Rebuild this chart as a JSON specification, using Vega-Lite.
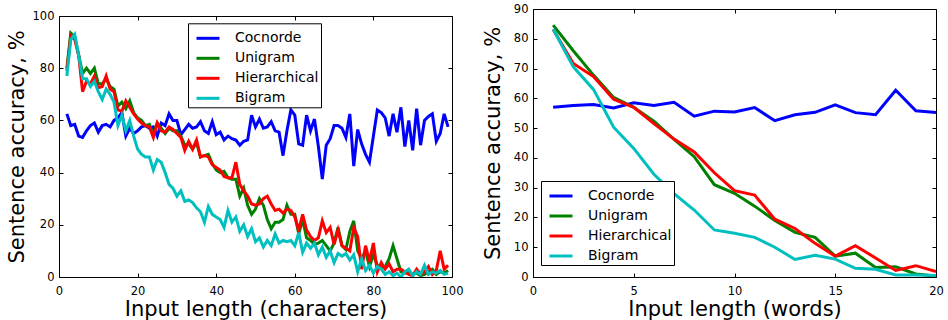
{
  "$schema": "https://vega.github.io/schema/vega-lite/v6.json",
  "padding": {"left": 6, "top": 3, "right": 4, "bottom": 0},
  "config": {
    "font": "DejaVu Sans",
    "view": {"stroke": null},
    "axis": {"grid": false, "domain": true, "domainColor": "black", "domainWidth": 1, "tickColor": "black", "tickSize": -4, "tickWidth": 1, "labelFontSize": 11.5, "labelColor": "black", "labelPadding": 9, "titleFontSize": 21, "titleFontWeight": "normal", "titleColor": "black", "titlePadding": 3, "labelFlush": false, "labelOverlap": false},
    "axisBottom": {"labelPadding": 12, "titlePadding": 2},
    "legend": {"orient": "none", "title": null, "symbolType": "stroke", "symbolStrokeWidth": 3, "symbolSize": 529, "symbolOffset": 5, "labelFontSize": 14, "labelColor": "black", "labelOffset": 14, "padding": 2, "strokeColor": "black", "fillColor": "white", "rowPadding": -2.3, "cornerRadius": 0}
  },
  "datasets": {
    "chars": [
      {"n":2,"C":62.5,"U":80,"H":79,"B":77},{"n":3,"C":58,"U":93.5,"H":92.5,"B":91},{"n":4,"C":58.5,"U":92,"H":91,"B":93},{"n":5,"C":54,"U":85,"H":85,"B":85},{"n":6,"C":53.5,"U":78,"H":71,"B":76},{"n":7,"C":56,"U":80,"H":75,"B":76},{"n":8,"C":58,"U":78,"H":74,"B":73},{"n":9,"C":59,"U":80,"H":77,"B":75},{"n":10,"C":55.5,"U":74,"H":72.5,"B":71},{"n":11,"C":58,"U":74,"H":73,"B":68},
      {"n":12,"C":58.5,"U":76,"H":77,"B":72},{"n":13,"C":57.5,"U":73,"H":72,"B":70},{"n":14,"C":60,"U":72,"H":71,"B":67},{"n":15,"C":61,"U":65.5,"H":64,"B":58},{"n":16,"C":63,"U":67,"H":63.5,"B":62},{"n":17,"C":54,"U":64.5,"H":67.5,"B":56},{"n":18,"C":57,"U":67.5,"H":65,"B":60},{"n":19,"C":55,"U":63,"H":62.5,"B":54},{"n":20,"C":56,"U":61,"H":60.5,"B":49},{"n":21,"C":57.5,"U":60,"H":59,"B":47},
      {"n":22,"C":58,"U":58,"H":58,"B":46},{"n":23,"C":57,"U":58.5,"H":57.5,"B":46},{"n":24,"C":57.5,"U":54.5,"H":53.5,"B":41},{"n":25,"C":54,"U":59,"H":59,"B":45},{"n":26,"C":59,"U":57,"H":56,"B":44},{"n":27,"C":58,"U":55,"H":55.5,"B":40},{"n":28,"C":62.5,"U":57,"H":57.5,"B":35.5},{"n":29,"C":60,"U":56,"H":56.5,"B":34},{"n":30,"C":60,"U":56,"H":55,"B":31},{"n":31,"C":54.5,"U":54,"H":53.5,"B":33},
      {"n":32,"C":56.5,"U":50.5,"H":48.5,"B":29},{"n":33,"C":58.5,"U":51,"H":52,"B":29.5},{"n":34,"C":57,"U":49,"H":49,"B":28.5},{"n":35,"C":57.5,"U":51.5,"H":52.5,"B":26.5},{"n":36,"C":59.5,"U":46,"H":46,"B":25},{"n":37,"C":56,"U":46.5,"H":46.5,"B":21},{"n":38,"C":55,"U":47,"H":46,"B":27},{"n":39,"C":59.5,"U":43.5,"H":43,"B":24},{"n":40,"C":54.5,"U":41,"H":42,"B":23},{"n":41,"C":55.5,"U":40,"H":41,"B":22},
      {"n":42,"C":52.5,"U":40.5,"H":38.5,"B":19},{"n":43,"C":54,"U":38,"H":38,"B":25.5},{"n":44,"C":53,"U":37.5,"H":38,"B":21},{"n":45,"C":52.5,"U":37.5,"H":44,"B":23},{"n":46,"C":50.5,"U":31,"H":35.5,"B":17.5},{"n":47,"C":52,"U":34,"H":33,"B":20},{"n":48,"C":52.5,"U":27.5,"H":31,"B":15.5},{"n":49,"C":62,"U":24,"H":28,"B":18.5},{"n":50,"C":57.5,"U":26,"H":27.5,"B":13.5},{"n":51,"C":60.5,"U":30,"H":28,"B":15},
      {"n":52,"C":57,"U":27.5,"H":30,"B":11.5},{"n":53,"C":57.5,"U":22,"H":31,"B":14},{"n":54,"C":59.5,"U":18.5,"H":28,"B":12},{"n":55,"C":56,"U":21,"H":25.5,"B":16.5},{"n":56,"C":55.5,"U":21,"H":26,"B":13},{"n":57,"C":46.5,"U":22,"H":24.5,"B":14},{"n":58,"C":56,"U":27.5,"H":26,"B":13.5},{"n":59,"C":64,"U":24,"H":25.5,"B":14},{"n":60,"C":62,"U":24,"H":23,"B":12},{"n":61,"C":51,"U":16.5,"H":18,"B":17},
      {"n":62,"C":50.5,"U":22,"H":24,"B":9.5},{"n":63,"C":62,"U":15,"H":18,"B":13},{"n":64,"C":56,"U":14,"H":15.5,"B":11},{"n":65,"C":60.5,"U":12.5,"H":14,"B":13},{"n":66,"C":50,"U":13,"H":15,"B":8.5},{"n":67,"C":37.5,"U":14,"H":21.5,"B":11.5},{"n":68,"C":50.5,"U":12,"H":17,"B":7.5},{"n":69,"C":53,"U":10,"H":19,"B":10},{"n":70,"C":58,"U":13,"H":12.5,"B":5.5},{"n":71,"C":58,"U":19,"H":18,"B":9},
      {"n":72,"C":57,"U":12,"H":12,"B":8},{"n":73,"C":53.5,"U":10.5,"H":11,"B":9},{"n":74,"C":62.5,"U":17.5,"H":10,"B":6.5},{"n":75,"C":42.5,"U":21.5,"H":19,"B":8.5},{"n":76,"C":56.5,"U":10,"H":15.5,"B":2},{"n":77,"C":51,"U":7,"H":3,"B":7},{"n":78,"C":47,"U":10,"H":12,"B":2.5},{"n":79,"C":44,"U":4,"H":6,"B":4.5},{"n":80,"C":54,"U":8.5,"H":13,"B":1.5},{"n":81,"C":64,"U":4.5,"H":2,"B":4},
      {"n":82,"C":63,"U":3.5,"H":5.5,"B":3},{"n":83,"C":61,"U":4,"H":3,"B":1},{"n":84,"C":54,"U":7,"H":5,"B":2},{"n":85,"C":62.5,"U":12,"H":2,"B":0.5},{"n":86,"C":55.5,"U":7,"H":3,"B":1.5},{"n":87,"C":65,"U":2,"H":3,"B":0},{"n":88,"C":50,"U":1.5,"H":2,"B":2},{"n":89,"C":60,"U":2,"H":1,"B":3},{"n":90,"C":48.5,"U":1,"H":0.5,"B":0.5},{"n":91,"C":64.5,"U":1.5,"H":3,"B":2},
      {"n":92,"C":50.5,"U":0.5,"H":1,"B":1},{"n":93,"C":60,"U":1,"H":2,"B":4.5},{"n":94,"C":61.5,"U":2,"H":4,"B":1},{"n":95,"C":62.5,"U":3,"H":1,"B":2},{"n":96,"C":52,"U":1,"H":2.5,"B":1.5},{"n":97,"C":55,"U":2,"H":10,"B":2.5},{"n":98,"C":62.5,"U":1.5,"H":3,"B":1},{"n":99,"C":57.5,"U":2.5,"H":4.5,"B":1.5}
    ],
    "words": [
      {"n":1,"C":57,"U":84.6,"H":83.1,"B":83.3},{"n":2,"C":57.6,"U":76,"H":71.7,"B":70.6},{"n":3,"C":57.9,"U":67.8,"H":67.3,"B":63},{"n":4,"C":56.8,"U":60.3,"H":59.7,"B":50.3},{"n":5,"C":58.5,"U":57,"H":57,"B":43.2},
      {"n":6,"C":57.6,"U":52.3,"H":51.5,"B":34.5},{"n":7,"C":58.7,"U":46.2,"H":46.3,"B":28},{"n":8,"C":54,"U":40.4,"H":42,"B":22.5},{"n":9,"C":55.7,"U":31,"H":35,"B":15.8},{"n":10,"C":55.4,"U":28.1,"H":29,"B":14.7},
      {"n":11,"C":56.9,"U":23.8,"H":27.5,"B":13.3},{"n":12,"C":52.5,"U":19,"H":19.4,"B":10},{"n":13,"C":54.5,"U":15,"H":16.3,"B":5.9},{"n":14,"C":55.3,"U":13.3,"H":11.3,"B":7.3},{"n":15,"C":57.8,"U":7,"H":7,"B":6},
      {"n":16,"C":55.2,"U":8,"H":10.5,"B":2.9},{"n":17,"C":54.5,"U":3.2,"H":6.4,"B":2.6},{"n":18,"C":62.7,"U":3.4,"H":2.2,"B":0.7},{"n":19,"C":55.8,"U":1,"H":3.8,"B":0.7},{"n":20,"C":55.2,"U":0.3,"H":1.8,"B":0.5}
    ]
  },
  "hconcat": [
    {
      "width": 393, "height": 268,
      "data": {"name": "chars"},
      "transform": [
        {"fold": ["C", "U", "H", "B"], "as": ["key", "acc"]},
        {"lookup": "key", "from": {"data": {"values": [{"key": "C", "model": "Cocnorde"}, {"key": "U", "model": "Unigram"}, {"key": "H", "model": "Hierarchical"}, {"key": "B", "model": "Bigram"}]}, "key": "key", "fields": ["model"]}}
      ],
      "layer": [
        {
          "mark": {"type": "line", "strokeWidth": 3, "clip": true},
          "encoding": {
            "x": {"field": "n", "type": "quantitative", "scale": {"domain": [0, 100], "nice": false, "zero": false}, "axis": {"values": [0, 20, 40, 60, 80, 100], "title": "Input length (characters)"}},
            "y": {"field": "acc", "type": "quantitative", "scale": {"domain": [0, 100], "nice": false, "range": [268, 7]}, "axis": {"values": [0, 20, 40, 60, 80, 100], "title": "Sentence accuracy, %", "titlePadding": 5}},
            "color": {"field": "model", "type": "nominal", "sort": ["Cocnorde", "Unigram", "Hierarchical", "Bigram"], "scale": {"domain": ["Cocnorde", "Unigram", "Hierarchical", "Bigram"], "range": ["#0000ff", "#008000", "#ff0000", "#00bfbf"]}, "legend": {"legendX": 129, "legendY": 14.3}}
          }
        },
        {
          "mark": {"type": "line", "opacity": 0},
          "encoding": {
            "x": {"field": "n", "type": "quantitative", "axis": {"orient": "top", "offset": -7, "values": [0, 20, 40, 60, 80, 100], "labels": false, "title": null}},
            "y": {"field": "acc", "type": "quantitative", "axis": {"orient": "right", "values": [0, 20, 40, 60, 80, 100], "labels": false, "title": null}},
            "detail": {"field": "model"}
          }
        }
      ],
      "resolve": {"axis": {"x": "independent", "y": "independent"}}
    },
    {
      "width": 403, "height": 268,
      "data": {"name": "words"},
      "transform": [
        {"fold": ["C", "U", "H", "B"], "as": ["key", "acc"]},
        {"lookup": "key", "from": {"data": {"values": [{"key": "C", "model": "Cocnorde"}, {"key": "U", "model": "Unigram"}, {"key": "H", "model": "Hierarchical"}, {"key": "B", "model": "Bigram"}]}, "key": "key", "fields": ["model"]}}
      ],
      "layer": [
        {
          "mark": {"type": "line", "strokeWidth": 3, "clip": true},
          "encoding": {
            "x": {"field": "n", "type": "quantitative", "scale": {"domain": [0, 20], "nice": false, "zero": false}, "axis": {"values": [0, 5, 10, 15, 20], "title": "Input length (words)"}},
            "y": {"field": "acc", "type": "quantitative", "scale": {"domain": [0, 90], "nice": false}, "axis": {"values": [0, 10, 20, 30, 40, 50, 60, 70, 80, 90], "title": "Sentence accuracy, %", "titlePadding": 10}},
            "color": {"field": "model", "type": "nominal", "sort": ["Cocnorde", "Unigram", "Hierarchical", "Bigram"], "scale": {"domain": ["Cocnorde", "Unigram", "Hierarchical", "Bigram"], "range": ["#0000ff", "#008000", "#ff0000", "#00bfbf"]}, "legend": {"legendX": 8, "legendY": 172}}
          }
        },
        {
          "mark": {"type": "line", "opacity": 0},
          "encoding": {
            "x": {"field": "n", "type": "quantitative", "axis": {"orient": "top", "values": [0, 5, 10, 15, 20], "labels": false, "title": null}},
            "y": {"field": "acc", "type": "quantitative", "axis": {"orient": "right", "values": [0, 10, 20, 30, 40, 50, 60, 70, 80, 90], "labels": false, "title": null}},
            "detail": {"field": "model"}
          }
        }
      ],
      "resolve": {"axis": {"x": "independent", "y": "independent"}}
    }
  ],
  "spacing": 19,
  "resolve": {"scale": {"color": "independent"}, "legend": {"color": "independent"}}
}
